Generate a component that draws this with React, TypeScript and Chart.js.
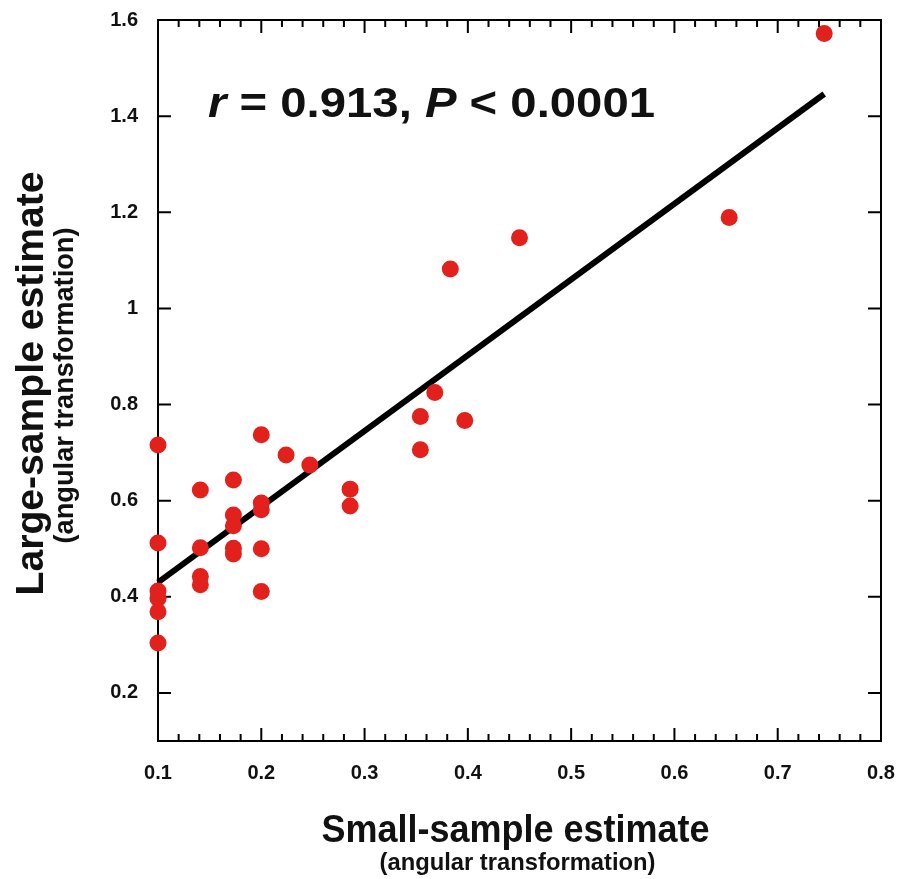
import React, { useEffect, useRef } from 'react';
import { Chart, registerables } from 'chart.js';

Chart.register(...registerables);

// ---------- data ----------
const smallSample = [
  0.1, 0.1, 0.1, 0.1, 0.1, 0.1,
  0.141, 0.141, 0.141, 0.141,
  0.173, 0.173, 0.173, 0.173, 0.173,
  0.2, 0.2, 0.2, 0.2, 0.2,
  0.224, 0.247, 0.286, 0.286,
  0.354, 0.354, 0.368, 0.383, 0.397, 0.45, 0.653, 0.745,
];
const largeSample = [
  0.716, 0.512, 0.412, 0.397, 0.369, 0.304,
  0.622, 0.502, 0.442, 0.425,
  0.643, 0.57, 0.548, 0.501, 0.489,
  0.737, 0.595, 0.581, 0.5, 0.411,
  0.695, 0.674, 0.624, 0.589,
  0.775, 0.706, 0.825, 1.082, 0.767, 1.147, 1.189, 1.572,
];
const fitX = [0.1, 0.745];
const fitY = [0.43, 1.446];

const xTickValues = [0.1, 0.2, 0.3, 0.4, 0.5, 0.6, 0.7, 0.8];
const xTickLabels = ['0.1', '0.2', '0.3', '0.4', '0.5', '0.6', '0.7', '0.8'];
const yTickValues = [0.2, 0.4, 0.6, 0.8, 1.0, 1.2, 1.4, 1.6];
const yTickLabels = ['0.2', '0.4', '0.6', '0.8', '1', '1.2', '1.4', '1.6'];
const X_MIN = 0.1;
const X_MAX = 0.8;
const Y_MIN = 0.1;
const Y_MAX = 1.6;

const xTitle = 'Small-sample estimate';
const yTitle = 'Large-sample estimate';
const subTitle = '(angular transformation)';
const statParts = [
  { text: 'r', italic: true },
  { text: ' = 0.913, ', italic: false },
  { text: 'P', italic: true },
  { text: ' < 0.0001', italic: false },
];
const statAnchorX = 0.1484;
const statAnchorY = 1.398;

// ---------- style ----------
const FAMILY = '"Liberation Sans", Arial, Helvetica, sans-serif';
const INK = '#111111';
const DOT = '#e3211c';

function fitText(
  ctx: CanvasRenderingContext2D,
  text: string,
  font: string,
  x: number,
  y: number,
  targetW: number,
  rotate: boolean
) {
  ctx.save();
  ctx.font = font;
  const w = ctx.measureText(text).width;
  const s = targetW / w;
  ctx.translate(x, y);
  if (rotate) ctx.rotate(-Math.PI / 2);
  ctx.scale(s, 1);
  ctx.textAlign = 'center';
  ctx.textBaseline = 'alphabetic';
  ctx.fillStyle = INK;
  ctx.fillText(text, 0, 0);
  ctx.restore();
}

const framePlugin = {
  id: 'framePlugin',
  beforeDatasetsDraw(chart: any) {
    const { ctx, chartArea: a, scales } = chart;
    const xs = scales.x;
    const ys = scales.y;
    ctx.save();
    ctx.strokeStyle = '#000';
    ctx.lineWidth = 2;
    ctx.strokeRect(a.left, a.top, a.right - a.left, a.bottom - a.top);
    ctx.beginPath();
    const MAJ = 13;
    const MIN = 7;
    for (let i = 0; i < xTickValues.length; i++) {
      const px = xs.getPixelForValue(xTickValues[i]);
      ctx.moveTo(px, a.bottom);
      ctx.lineTo(px, a.bottom - MAJ);
      ctx.moveTo(px, a.top);
      ctx.lineTo(px, a.top + MAJ);
      if (i < xTickValues.length - 1) {
        const step = (xTickValues[i + 1] - xTickValues[i]) / 5;
        for (let k = 1; k < 5; k++) {
          const mx = xs.getPixelForValue(xTickValues[i] + step * k);
          ctx.moveTo(mx, a.bottom);
          ctx.lineTo(mx, a.bottom - MIN);
          ctx.moveTo(mx, a.top);
          ctx.lineTo(mx, a.top + MIN);
        }
      }
    }
    for (let i = 0; i < yTickValues.length; i++) {
      const py = ys.getPixelForValue(yTickValues[i]);
      ctx.moveTo(a.left, py);
      ctx.lineTo(a.left + MAJ, py);
      ctx.moveTo(a.right, py);
      ctx.lineTo(a.right - MAJ, py);
    }
    ctx.stroke();
    ctx.restore();
  },
  afterDraw(chart: any) {
    const { ctx, chartArea: a, scales } = chart;
    const cx = (a.left + a.right) / 2 - 2;
    const cy = (a.top + a.bottom) / 2 + 3;
    fitText(ctx, xTitle, `bold 38px ${FAMILY}`, cx - 2, a.bottom + 101, 388, false);
    fitText(ctx, subTitle, `bold 24px ${FAMILY}`, cx, a.bottom + 129, 276, false);
    fitText(ctx, yTitle, `bold 39px ${FAMILY}`, 43, cy, 424, true);
    fitText(ctx, subTitle, `bold 27px ${FAMILY}`, 73, cy + 2, 316, true);
    const sx = scales.x.getPixelForValue(statAnchorX);
    const sy = scales.y.getPixelForValue(statAnchorY);
    ctx.save();
    const fontFor = (it: boolean) => `${it ? 'italic ' : ''}bold 42px ${FAMILY}`;
    let total = 0;
    for (const p of statParts) {
      ctx.font = fontFor(p.italic);
      total += ctx.measureText(p.text).width;
    }
    const s = 447 / total;
    ctx.translate(sx, sy);
    ctx.scale(s, 1);
    ctx.textAlign = 'left';
    ctx.textBaseline = 'alphabetic';
    ctx.fillStyle = INK;
    let off = 0;
    for (const p of statParts) {
      ctx.font = fontFor(p.italic);
      ctx.fillText(p.text, off, 0);
      off += ctx.measureText(p.text).width;
    }
    ctx.restore();
  },
};

export default function App() {
  const ref = useRef<HTMLCanvasElement | null>(null);
  useEffect(() => {
    if (!ref.current) return;
    const points = smallSample.map((x, i) => ({ x, y: largeSample[i] }));
    const fit = fitX.map((x, i) => ({ x, y: fitY[i] }));
    const chart = new Chart(ref.current, {
      type: 'scatter',
      data: {
        datasets: [
          {
            type: 'line',
            data: fit,
            borderColor: '#000',
            borderWidth: 6,
            pointRadius: 0,
            borderCapStyle: 'butt',
            fill: false,
            order: 2,
            clip: false,
          } as any,
          {
            data: points,
            backgroundColor: DOT,
            borderColor: DOT,
            borderWidth: 0,
            pointRadius: 8.5,
            order: 1,
            clip: false,
          } as any,
        ],
      },
      options: {
        animation: false,
        responsive: false,
        maintainAspectRatio: false,
        events: [],
        layout: { padding: { top: 20, right: 17, left: 0, bottom: 0 } },
        plugins: {
          legend: { display: false },
          tooltip: { enabled: false },
          title: { display: false },
        },
        scales: {
          x: {
            type: 'linear',
            min: X_MIN,
            max: X_MAX,
            grid: { display: false, drawTicks: false },
            border: { display: false },
            afterBuildTicks: (s: any) => {
              s.ticks = xTickValues.map((v) => ({ value: v }));
            },
            afterFit: (s: any) => {
              s.height = 138;
              s.paddingLeft = 0;
              s.paddingRight = 0;
            },
            ticks: {
              autoSkip: false,
              maxRotation: 0,
              minRotation: 0,
              padding: 20,
              color: INK,
              font: { family: FAMILY, size: 20, weight: 'bold' },
              callback: (_v: any, i: number) => xTickLabels[i],
            },
          },
          y: {
            type: 'linear',
            min: Y_MIN,
            max: Y_MAX,
            grid: { display: false, drawTicks: false },
            border: { display: false },
            afterBuildTicks: (s: any) => {
              s.ticks = yTickValues.map((v) => ({ value: v }));
            },
            afterFit: (s: any) => {
              s.width = 158;
              s.paddingTop = 0;
              s.paddingBottom = 0;
            },
            ticks: {
              autoSkip: false,
              padding: 20,
              color: INK,
              font: { family: FAMILY, size: 20, weight: 'bold' },
              callback: (_v: any, i: number) => yTickLabels[i],
            },
          },
        },
      } as any,
      plugins: [framePlugin],
    });
    return () => chart.destroy();
  }, []);

  return (
    <div style={{ position: 'absolute', left: 0, top: 0, width: 898, height: 879, background: '#fff' }}>
      <canvas ref={ref} width={898} height={879} style={{ display: 'block' }} />
    </div>
  );
}
